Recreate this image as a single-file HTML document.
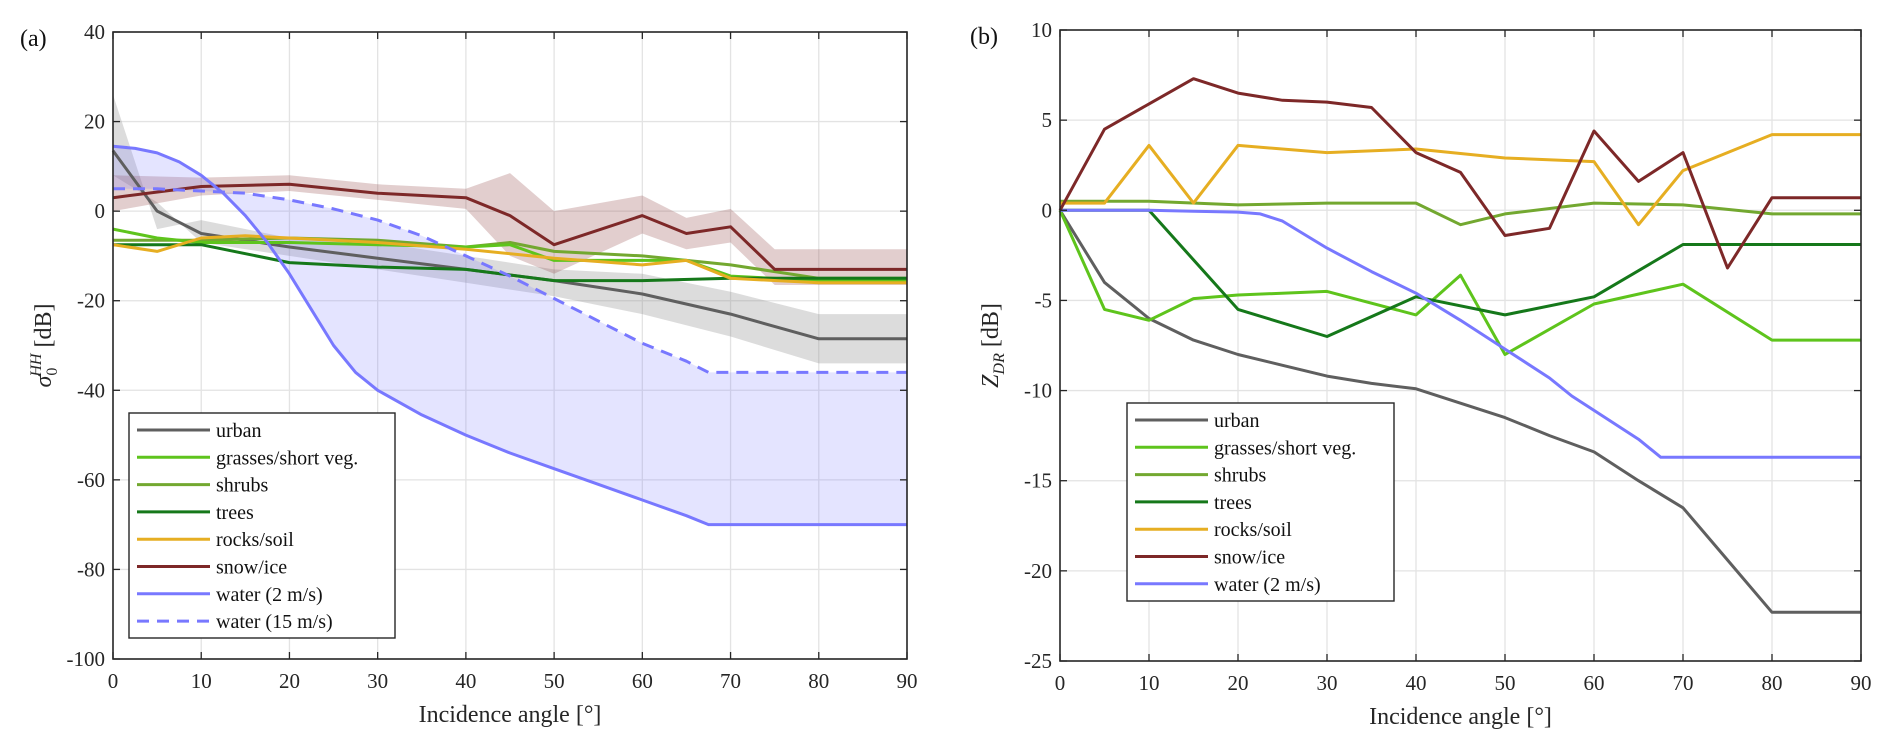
<!DOCTYPE html>
<html><head><meta charset="utf-8">
<style>
html,body{margin:0;padding:0;background:#fff;}
svg{display:block;font-family:"Liberation Serif","DejaVu Serif",serif;}
</style></head>
<body>
<svg id="fig" width="1892" height="751" viewBox="0 0 1892 751" xmlns="http://www.w3.org/2000/svg">
<rect width="1892" height="751" fill="#fff"/>
<g id="pa"></g>
<g id="pb"></g>
</svg>
<script>
// ---- shared data ----
const xTicks = [0,10,20,30,40,50,60,70,80,90];
const yTicksA = [40,20,0,-20,-40,-60,-80,-100];
const yTicksB = [10,5,0,-5,-10,-15,-20,-25];

// Panel (a): sigma0 HH
const urbanAx = [0,5,10,20,30,40,50,60,70,80,90];
const urbanAy = [13.5,0,-5,-8,-10.5,-13,-15.5,-18.5,-23,-28.5,-28.5];
const urbanAhi = [26,-4,-2,-6,-7,-10,-13,-14,-18,-23,-23];
const urbanAlo = [8,2,-7,-10,-13,-16,-19,-23,-28,-34,-34];
const grassAx = [0,5,10,20,30,40,45,50,60,65,70,80,90];
const grassAy = [-4,-6,-7,-7,-7.5,-8,-7.5,-11,-11,-11,-14.5,-15.5,-15.5];
const shrubAx = [0,10,20,30,40,45,50,60,70,80,90];
const shrubAy = [-6.5,-6.5,-6,-6.5,-8,-7,-9,-10,-12,-15,-15];
const treeAx = [0,10,20,30,40,50,60,70,80,90];
const treeAy = [-7.5,-7.5,-11.5,-12.5,-13,-15.5,-15.5,-15,-15,-15];
const rockAx = [0,5,10,15,20,30,40,50,60,65,70,80,90];
const rockAy = [-7.5,-9,-6,-5.5,-6,-7,-8.5,-10.5,-12,-11,-15,-16,-16];
const snowAx = [0,10,20,30,40,45,50,60,65,70,75,90];
const snowAy = [3,5.5,6,4,3,-1,-7.5,-1,-5,-3.5,-13,-13];
const snowAhi = [8,7.5,8,6,5,8.5,0,3.5,-1.5,0.5,-8.5,-8.5];
const snowAlo = [0,3.5,4.5,2.5,0.5,-10,-14,-5,-8.5,-7,-16.5,-16.5];
const w2Ax = [0,2.5,5,7.5,10,12.5,15,17.5,20,22.5,25,27.5,30,35,40,45,50,55,60,65,67.5,90];
const w2Ay = [14.5,14,13,11,8,4,-1,-7,-14,-22,-30,-36,-40,-45.5,-50,-54,-57.5,-61,-64.5,-68,-70,-70];
const w15Ax = [0,5,10,15,20,25,30,35,40,45,50,55,60,65,67.5,90];
const w15Ay = [5,5,4.5,4,2.5,0.5,-2,-5.5,-10,-14.5,-19.5,-24.5,-29.5,-33.5,-36,-36];

// Panel (b): ZDR
const urbanBx = [0,5,10,15,20,25,30,35,40,45,50,55,60,65,70,75,80,90];
const urbanBy = [0,-4,-6,-7.2,-8,-8.6,-9.2,-9.6,-9.9,-10.7,-11.5,-12.5,-13.4,-15,-16.5,-19.4,-22.3,-22.3];
const grassBx = [0,5,10,15,20,30,40,45,50,60,70,80,90];
const grassBy = [0,-5.5,-6.1,-4.9,-4.7,-4.5,-5.8,-3.6,-8,-5.2,-4.1,-7.2,-7.2];
const shrubBx = [0,10,20,30,40,45,50,60,70,80,90];
const shrubBy = [0.5,0.5,0.3,0.4,0.4,-0.8,-0.2,0.4,0.3,-0.2,-0.2];
const treeBx = [0,10,20,30,40,50,60,70,80,90];
const treeBy = [0,0,-5.5,-7,-4.8,-5.8,-4.8,-1.9,-1.9,-1.9];
const rockBx = [0,5,10,15,20,30,40,50,60,65,70,80,90];
const rockBy = [0.4,0.4,3.6,0.4,3.6,3.2,3.4,2.9,2.7,-0.8,2.2,4.2,4.2];
const snowBx = [0,5,10,15,20,25,30,35,40,45,50,55,60,65,70,75,80,90];
const snowBy = [0,4.5,5.9,7.3,6.5,6.1,6,5.7,3.2,2.1,-1.4,-1,4.4,1.6,3.2,-3.2,0.7,0.7];
const waterBx = [0,10,15,20,22.5,25,30,35,40,45,50,55,57.5,60,65,67.5,90];
const waterBy = [0,0,-0.05,-0.1,-0.2,-0.6,-2.1,-3.4,-4.6,-6.1,-7.7,-9.3,-10.3,-11.1,-12.7,-13.7,-13.7];

const C = {urban:'#5f5f5f',grass:'#5ec41c',shrub:'#73a830',tree:'#15781a',rock:'#e6ae22',snow:'#7d2828',water:'#7878ff'};
const NS='http://www.w3.org/2000/svg';
function mk(parent,tag,attrs){const e=document.createElementNS(NS,tag);for(const k in attrs)e.setAttribute(k,attrs[k]);parent.appendChild(e);return e;}

function panel(g,box,ymin,ymax,yTicks){
  const sx=v=>box.x0+(v-0)/(90-0)*(box.x1-box.x0);
  const sy=v=>box.y1-(v-ymin)/(ymax-ymin)*(box.y1-box.y0);
  // grid
  xTicks.forEach(t=>{const l=mk(g,'line',{x1:sx(t),x2:sx(t),y1:box.y0,y2:box.y1,stroke:'#e3e3e3','stroke-width':1.3});
    
    });
  yTicks.forEach(t=>{const l=mk(g,'line',{x1:box.x0,x2:box.x1,y1:sy(t),y2:sy(t),stroke:'#e3e3e3','stroke-width':1.3});
    
    });
  return {sx,sy};
}
function pathD(xs,ys,sx,sy){return xs.map((x,i)=>(i?'L':'M')+sx(x).toFixed(1)+','+sy(ys[i]).toFixed(1)).join(' ');}
function band(g,xs,hi,lo,sx,sy,color,op,name){
  let d=pathD(xs,hi,sx,sy);
  for(let i=xs.length-1;i>=0;i--)d+=' L'+sx(xs[i]).toFixed(1)+','+sy(lo[i]).toFixed(1);
  const p=mk(g,'path',{d:d+' Z',fill:color,'fill-opacity':op,stroke:'none'});
  
  
}
function bandXY(g,xa,ya,xb,yb,sx,sy,color,op,name){
  let d=pathD(xa,ya,sx,sy);
  for(let i=xb.length-1;i>=0;i--)d+=' L'+sx(xb[i]).toFixed(1)+','+sy(yb[i]).toFixed(1);
  const p=mk(g,'path',{d:d+' Z',fill:color,'fill-opacity':op,stroke:'none'});
  
  
}
function line(g,xs,ys,sx,sy,color,name,dash){
  const a={d:pathD(xs,ys,sx,sy),fill:'none',stroke:color,'stroke-width':3,'stroke-linejoin':'round'};
  if(dash)a['stroke-dasharray']=dash;
  const p=mk(g,'path',a);
  
  
}
function axes(g,box,sx,sy,yTicks,ylabelHTML,letter,letterX){
  const r=mk(g,'rect',{x:box.x0,y:box.y0,width:box.x1-box.x0,height:box.y1-box.y0,fill:'none',stroke:'#262626','stroke-width':1.6});
  
  
  xTicks.forEach(t=>{
    mk(g,'line',{x1:sx(t),x2:sx(t),y1:box.y1,y2:box.y1-7,stroke:'#262626','stroke-width':1.3});
    mk(g,'line',{x1:sx(t),x2:sx(t),y1:box.y0,y2:box.y0+7,stroke:'#262626','stroke-width':1.3});
    const tx=mk(g,'text',{x:sx(t),y:box.y1+29,'text-anchor':'middle','font-size':21,fill:'#262626'});
    tx.textContent=t;
    
    
  });
  yTicks.forEach(t=>{
    mk(g,'line',{x1:box.x0,x2:box.x0+7,y1:sy(t),y2:sy(t),stroke:'#262626','stroke-width':1.3});
    mk(g,'line',{x1:box.x1,x2:box.x1-7,y1:sy(t),y2:sy(t),stroke:'#262626','stroke-width':1.3});
    const tx=mk(g,'text',{x:box.x0-8,y:sy(t)+7,'text-anchor':'end','font-size':21,fill:'#262626'});
    tx.textContent=t;
    
    
  });
  const xl=mk(g,'text',{x:(box.x0+box.x1)/2,y:box.y1+63,'text-anchor':'middle','font-size':24,fill:'#262626'});
  xl.textContent='Incidence angle [°]';
  
  
  const yl=mk(g,'text',{x:0,y:0,'text-anchor':'middle','font-size':24,fill:'#262626',transform:'translate('+(box.x0-62)+','+((box.y0+box.y1)/2)+') rotate(-90)'});
  yl.innerHTML=ylabelHTML;
  
  
  const lt=mk(g,'text',{x:letterX,y:box.y0+14,'font-size':24,fill:'#111'});
  lt.textContent=letter;
  
  
}
function legend(g,bx,by,bw,bh,entries){
  const lg=mk(g,'g',{});
  
  
  mk(lg,'rect',{x:bx,y:by,width:bw,height:bh,fill:'#fff',stroke:'#262626','stroke-width':1.4});
  entries.forEach((e,i)=>{
    const y=by+17+i*27.3;
    const eg=mk(lg,'g',{});
    
    
    const a={x1:bx+8,x2:bx+81,y1:y,y2:y,stroke:e[1],'stroke-width':3};
    if(e[2])a['stroke-dasharray']=e[2];
    mk(eg,'line',a);
    const t=mk(eg,'text',{x:bx+87,y:y+7,'font-size':20,fill:'#111'});
    t.textContent=e[0];
  });
}

// ---- Panel A ----
const ga=document.getElementById('pa');
const boxA={x0:113,x1:907,y0:32,y1:659};
const A=panel(ga,boxA,-100,40,yTicksA);
band(ga,urbanAx,urbanAhi,urbanAlo,A.sx,A.sy,'#8c8c8c',0.3,'urban-band');
band(ga,snowAx,snowAhi,snowAlo,A.sx,A.sy,'#8a3a3a',0.25,'snow-band');
bandXY(ga,w2Ax,w2Ay,w15Ax,w15Ay,A.sx,A.sy,'#7878ff',0.2,'water-band');
line(ga,urbanAx,urbanAy,A.sx,A.sy,C.urban,'urban-line');
line(ga,shrubAx,shrubAy,A.sx,A.sy,C.shrub,'shrubs-line');
line(ga,grassAx,grassAy,A.sx,A.sy,C.grass,'grasses-line');
line(ga,treeAx,treeAy,A.sx,A.sy,C.tree,'trees-line');
line(ga,rockAx,rockAy,A.sx,A.sy,C.rock,'rocks-line');
line(ga,snowAx,snowAy,A.sx,A.sy,C.snow,'snow-line');
line(ga,w2Ax,w2Ay,A.sx,A.sy,C.water,'water-2-line');
line(ga,w15Ax,w15Ay,A.sx,A.sy,C.water,'water-15-line','12,8');
axes(ga,boxA,A.sx,A.sy,yTicksA,'<tspan font-style="italic">σ</tspan><tspan font-size="16" dy="6">0</tspan><tspan font-size="16" font-style="italic" dy="-16" dx="-9">HH</tspan><tspan dy="10"> [dB]</tspan>','(a)',20);
legend(ga,129,413,266,225,[['urban',C.urban],['grasses/short veg.',C.grass],['shrubs',C.shrub],['trees',C.tree],['rocks/soil',C.rock],['snow/ice',C.snow],['water (2 m/s)',C.water],['water (15 m/s)',C.water,'12,8']]);

// ---- Panel B ----
const gb=document.getElementById('pb');
const boxB={x0:1060,x1:1861,y0:30,y1:661};
const B=panel(gb,boxB,-25,10,yTicksB);
line(gb,urbanBx,urbanBy,B.sx,B.sy,C.urban,'urban-line');
line(gb,grassBx,grassBy,B.sx,B.sy,C.grass,'grasses-line');
line(gb,shrubBx,shrubBy,B.sx,B.sy,C.shrub,'shrubs-line');
line(gb,treeBx,treeBy,B.sx,B.sy,C.tree,'trees-line');
line(gb,rockBx,rockBy,B.sx,B.sy,C.rock,'rocks-line');
line(gb,waterBx,waterBy,B.sx,B.sy,C.water,'water-line');
line(gb,snowBx,snowBy,B.sx,B.sy,C.snow,'snow-line');
axes(gb,boxB,B.sx,B.sy,yTicksB,'<tspan font-style="italic">Z</tspan><tspan font-size="16" font-style="italic" dy="6">DR</tspan><tspan dy="-6"> [dB]</tspan>','(b)',970);
legend(gb,1127,403,267,198,[['urban',C.urban],['grasses/short veg.',C.grass],['shrubs',C.shrub],['trees',C.tree],['rocks/soil',C.rock],['snow/ice',C.snow],['water (2 m/s)',C.water]]);
</script>
</body></html>
